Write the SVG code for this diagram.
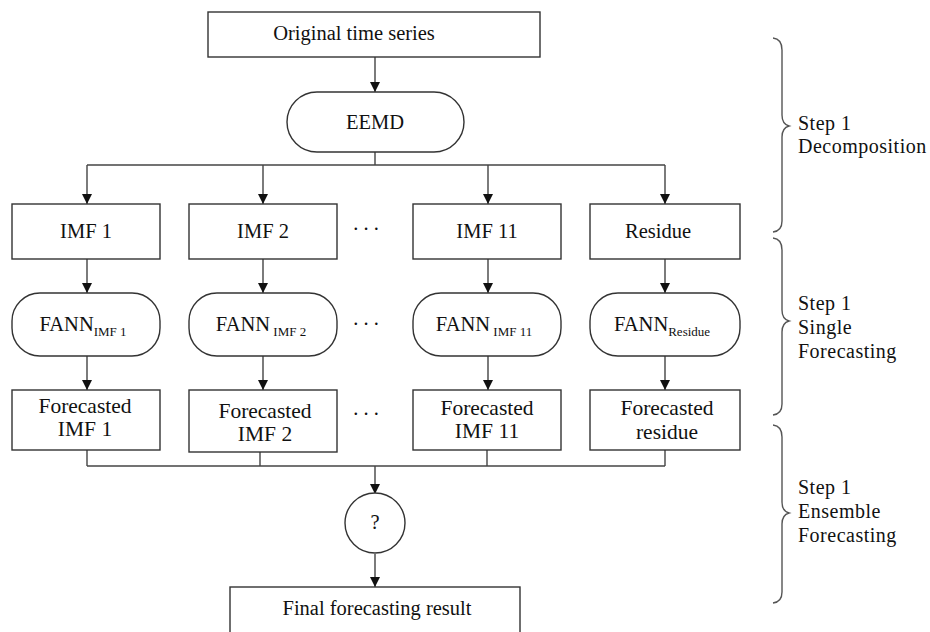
<svg xmlns="http://www.w3.org/2000/svg" width="930" height="632" viewBox="0 0 930 632">
<style>
.box{fill:#fff;stroke:#333;stroke-width:1.4}
.ln{fill:none;stroke:#444;stroke-width:1.4}
.br{fill:none;stroke:#555;stroke-width:1.4}
text{font-family:"Liberation Serif","Times New Roman",serif;font-size:20.5px;fill:#111}
.c{text-anchor:middle}
.fc{font-size:21.5px}
.sub{font-size:13px}
.lbl{font-size:20px;letter-spacing:0.5px}
</style>
<defs>
<marker id="ah" viewBox="0 0 10 12" refX="10" refY="6" markerWidth="10" markerHeight="12" markerUnits="userSpaceOnUse" orient="auto">
<path d="M0,1 L10,6 L0,11 Z" fill="#111"/>
</marker>
</defs>
<rect width="930" height="632" fill="#fff"/>
<g id="connectors">
<line class="ln" x1="375" y1="57" x2="375" y2="92" marker-end="url(#ah)"/>
<polyline class="ln" points="375,152 375,165"/>
<line class="ln" x1="87" y1="165" x2="665" y2="165"/>
<line class="ln" x1="87" y1="165" x2="87" y2="204" marker-end="url(#ah)"/>
<line class="ln" x1="263" y1="165" x2="263" y2="204" marker-end="url(#ah)"/>
<line class="ln" x1="488" y1="165" x2="488" y2="204" marker-end="url(#ah)"/>
<line class="ln" x1="665" y1="165" x2="665" y2="204" marker-end="url(#ah)"/>
<line class="ln" x1="87" y1="259" x2="87" y2="293" marker-end="url(#ah)"/>
<line class="ln" x1="263" y1="259" x2="263" y2="293" marker-end="url(#ah)"/>
<line class="ln" x1="488" y1="259" x2="488" y2="293" marker-end="url(#ah)"/>
<line class="ln" x1="665" y1="259" x2="665" y2="293" marker-end="url(#ah)"/>
<line class="ln" x1="87" y1="356" x2="87" y2="390" marker-end="url(#ah)"/>
<line class="ln" x1="263" y1="356" x2="263" y2="390" marker-end="url(#ah)"/>
<line class="ln" x1="488" y1="356" x2="488" y2="390" marker-end="url(#ah)"/>
<line class="ln" x1="665" y1="356" x2="665" y2="390" marker-end="url(#ah)"/>
<line class="ln" x1="87" y1="450" x2="87" y2="466"/>
<line class="ln" x1="260" y1="452" x2="260" y2="466"/>
<line class="ln" x1="487" y1="450" x2="487" y2="466"/>
<line class="ln" x1="665" y1="450" x2="665" y2="466"/>
<line class="ln" x1="87" y1="466" x2="665" y2="466"/>
<line class="ln" x1="375" y1="466" x2="375" y2="494" marker-end="url(#ah)"/>
<line class="ln" x1="375" y1="554" x2="375" y2="587" marker-end="url(#ah)"/>
</g>
<g id="n-original"><rect class="box" x="208" y="12" width="332" height="45"/><text class="c" x="354" y="40">Original time series</text></g>
<g id="n-eemd"><rect class="box" x="287" y="92" width="177" height="60" rx="30"/><text class="c" x="375" y="129">EEMD</text></g>
<g id="n-imf1"><rect class="box" x="12" y="204" width="148" height="55"/><text class="c" x="86" y="238">IMF 1</text></g>
<g id="n-imf2"><rect class="box" x="189" y="204" width="148" height="55"/><text class="c" x="263" y="238">IMF 2</text></g>
<g id="n-imf11"><rect class="box" x="413" y="204" width="148" height="55"/><text class="c" x="487" y="238">IMF 11</text></g>
<g id="n-residue"><rect class="box" x="590" y="204" width="150" height="55"/><text class="c" x="658" y="238">Residue</text></g>
<g id="n-fann1"><rect class="box" x="12" y="293" width="148" height="63" rx="28"/><text class="c" x="83" y="331">FANN<tspan class="sub" dy="5">IMF 1</tspan></text></g>
<g id="n-fann2"><rect class="box" x="189" y="293" width="148" height="63" rx="28"/><text class="c" x="261" y="331">FANN<tspan class="sub" dy="5"> IMF 2</tspan></text></g>
<g id="n-fann11"><rect class="box" x="413" y="293" width="148" height="63" rx="28"/><text class="c" x="484" y="331">FANN<tspan class="sub" dy="5"> IMF 11</tspan></text></g>
<g id="n-fannres"><rect class="box" x="590" y="293" width="150" height="63" rx="28"/><text class="c" x="662" y="331">FANN<tspan class="sub" dy="5">Residue</tspan></text></g>
<g id="n-fc1"><rect class="box" x="12" y="390" width="148" height="60"/><text class="c fc" x="85" y="413">Forecasted</text><text class="c fc" x="85" y="436">IMF 1</text></g>
<g id="n-fc2"><rect class="box" x="189" y="390" width="148" height="62"/><text class="c fc" x="265" y="418">Forecasted</text><text class="c fc" x="265" y="441">IMF 2</text></g>
<g id="n-fc11"><rect class="box" x="413" y="390" width="148" height="60"/><text class="c fc" x="487" y="415">Forecasted</text><text class="c fc" x="487" y="438">IMF 11</text></g>
<g id="n-fcres"><rect class="box" x="590" y="390" width="150" height="60"/><text class="c fc" x="667" y="415">Forecasted</text><text class="c fc" x="667" y="439">residue</text></g>
<g id="n-combine"><circle class="box" cx="375" cy="523" r="30"/><text class="c" x="375" y="529" font-size="18">?</text></g>
<g id="n-final"><rect class="box" x="230" y="587" width="290" height="50"/><text class="c" x="377" y="615">Final forecasting result</text></g>
<g id="dots">
<text class="c" x="366" y="230">. . .</text>
<text class="c" x="366" y="325">. . .</text>
<text class="c" x="366" y="415">. . .</text>
</g>
<g id="braces">
<path class="br" d="M773,38 Q782,39 782,50 L782,115 Q782,124 789,126 Q782,128 782,137 L782,221 Q782,231 773,232"/>
<path class="br" d="M773,238 Q782,239 782,250 L782,310 Q782,319 789,321 Q782,323 782,332 L782,404 Q782,414 773,415"/>
<path class="br" d="M773,425 Q782,426 782,437 L782,502 Q782,511 789,513 Q782,515 782,524 L782,592 Q782,602 773,603"/>
</g>
<g id="labels">
<text class="lbl" x="798" y="130">Step 1</text>
<text class="lbl" x="798" y="153">Decomposition</text>
<text class="lbl" x="798" y="310">Step 1</text>
<text class="lbl" x="798" y="334">Single</text>
<text class="lbl" x="798" y="358">Forecasting</text>
<text class="lbl" x="798" y="494">Step 1</text>
<text class="lbl" x="798" y="518">Ensemble</text>
<text class="lbl" x="798" y="542">Forecasting</text>
</g>
</svg>
